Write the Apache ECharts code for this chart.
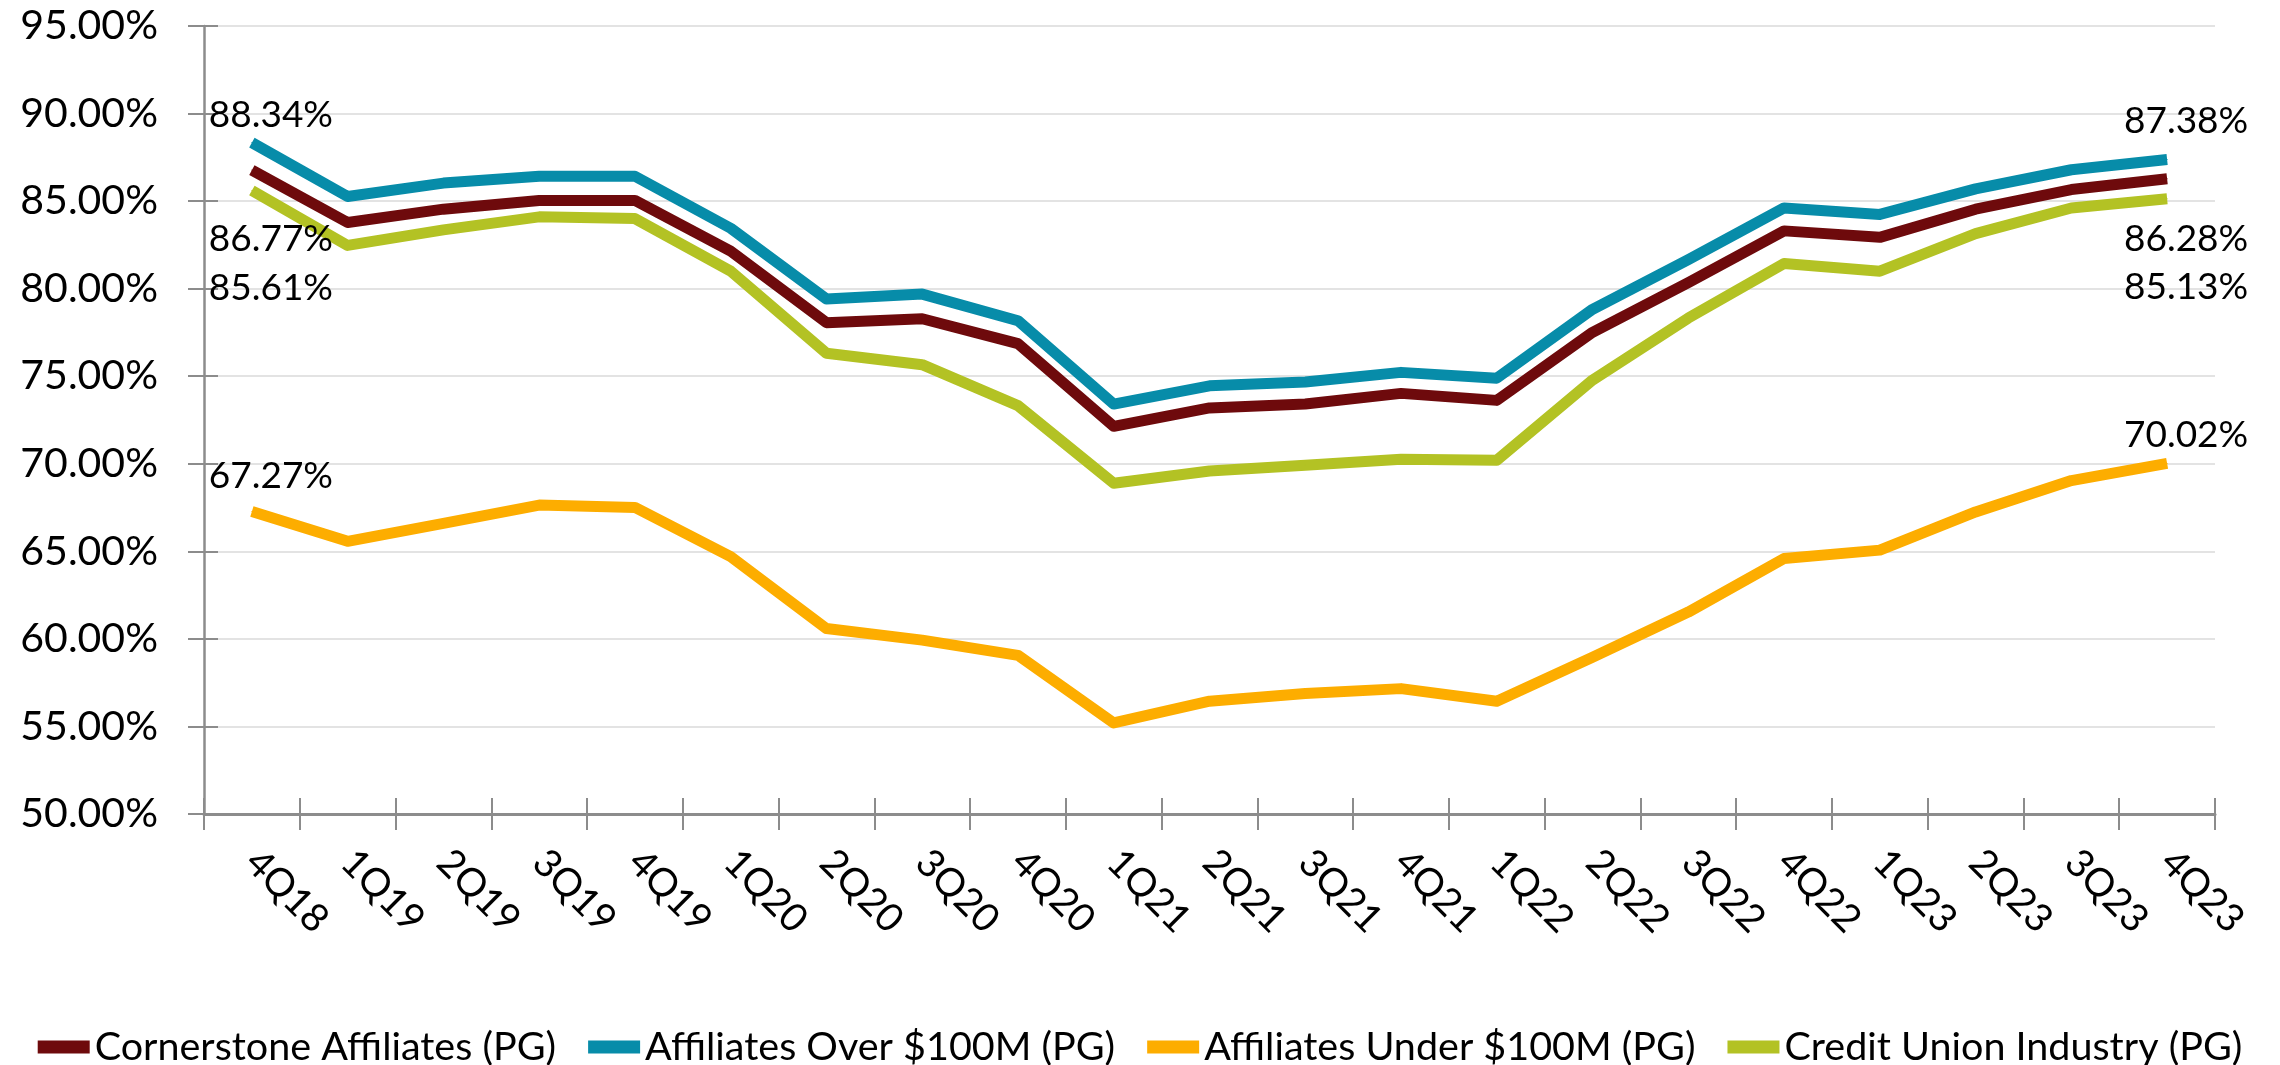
<!DOCTYPE html>
<html>
<head>
<meta charset="utf-8">
<title>PG ratio by quarter</title>
<script src="https://cdn.jsdelivr.net/npm/echarts@6/dist/echarts.min.js"></script>
<style>
  html, body { margin: 0; padding: 0; background: #ffffff; }
  #chart { width: 2280px; height: 1065px; }
</style>
</head>
<body>
<div id="chart"></div>
<script>
// Quarters on the category axis
const categories = ['4Q18', '1Q19', '2Q19', '3Q19', '4Q19', '1Q20', '2Q20', '3Q20', '4Q20',
  '1Q21', '2Q21', '3Q21', '4Q21', '1Q22', '2Q22', '3Q22', '4Q22', '1Q23', '2Q23', '3Q23', '4Q23'];

// Series values (percent)
const cornerstone = [86.77, 83.78, 84.54, 85.04, 85.04, 82.14, 78.06, 78.28, 76.86, 72.14, 73.19,
  73.41, 74.02, 73.62, 77.51, 80.35, 83.30, 82.93, 84.54, 85.66, 86.28];
const over100M = [88.34, 85.26, 86.03, 86.42, 86.42, 83.45, 79.41, 79.69, 78.17, 73.41, 74.45,
  74.67, 75.22, 74.89, 78.82, 81.66, 84.61, 84.24, 85.70, 86.79, 87.38];
const under100M = [67.27, 65.57, 66.60, 67.64, 67.51, 64.70, 60.59, 59.93, 59.06, 55.20, 56.44,
  56.88, 57.16, 56.44, 58.95, 61.53, 64.59, 65.07, 67.25, 69.04, 70.02];
const cuIndustry = [85.61, 82.47, 83.36, 84.10, 84.00, 81.00, 76.31, 75.66, 73.32, 68.89, 69.59,
  69.91, 70.26, 70.20, 74.78, 78.32, 81.44, 81.00, 83.14, 84.61, 85.13];

// Value axis range and step
const yMin = 50;
const yMax = 95;
const yStep = 5;

const FONT = 'Lato, "Liberation Sans", sans-serif';

// Only the first and last points carry a value label
function withEndLabels(values, firstDy, lastDy) {
  const last = values.length - 1;
  return values.map(function (v, i) {
    if (i === 0 || i === last) {
      return { value: v, label: { show: true, offset: [19, i === 0 ? firstDy : lastDy] } };
    }
    return v;
  });
}

function lineSeries(name, color, values, firstDy, lastDy) {
  return {
    name: name,
    type: 'line',
    xAxisIndex: 0,
    yAxisIndex: 0,
    data: withEndLabels(values, firstDy, lastDy),
    symbol: 'circle',
    symbolSize: 1,
    showSymbol: true,
    itemStyle: { color: color },
    lineStyle: { color: color, width: 11, join: 'round', cap: 'butt' },
    label: {
      show: false,
      position: 'inside',
      formatter: function (p) { return p.value.toFixed(2) + '%'; },
      fontFamily: FONT,
      fontSize: 37,
      color: '#000000'
    },
    emphasis: { disabled: true },
    animation: false
  };
}

const chart = echarts.init(document.getElementById('chart'), null, { renderer: 'canvas' });

const axisGrey = '#8c8c8c';

chart.setOption({
  backgroundColor: '#ffffff',
  grid: { left: 204, right: 65, top: 26, bottom: 251, containLabel: false },
  legend: {
    data: ['Cornerstone Affiliates (PG)', 'Affiliates Over $100M (PG)',
      'Affiliates Under $100M (PG)', 'Credit Union Industry (PG)'],
    left: 'center',
    top: 1020,
    icon: 'rect',
    itemWidth: 52,
    itemHeight: 13,
    itemGap: 32,
    textStyle: { fontFamily: FONT, fontSize: 39.5, color: '#000000', lineHeight: 44 }
  },
  xAxis: [
    {
      type: 'category',
      position: 'bottom',
      data: categories,
      boundaryGap: true,
      axisLine: { show: true, lineStyle: { color: axisGrey, width: 3 } },
      axisTick: { show: true, interval: 0, length: 16, lineStyle: { color: axisGrey, width: 2 } },
      axisLabel: {
        interval: 0,
        rotate: -45,
        margin: 42,
        padding: [17, 0, 0, 0],
        fontFamily: FONT,
        fontSize: 39,
        color: '#000000'
      },
      splitLine: { show: false }
    },
    {
      // inner half of the crossing tick marks
      type: 'category',
      position: 'bottom',
      data: categories,
      boundaryGap: true,
      axisLine: { show: false },
      axisTick: { show: true, inside: true, interval: 0, length: 16, lineStyle: { color: axisGrey, width: 2 } },
      axisLabel: { show: false },
      splitLine: { show: false }
    }
  ],
  yAxis: [
    {
      type: 'value',
      position: 'left',
      min: yMin,
      max: yMax,
      interval: yStep,
      axisLine: { show: true, lineStyle: { color: axisGrey, width: 2.5 } },
      axisTick: { show: true, length: 16, lineStyle: { color: axisGrey, width: 2 } },
      axisLabel: {
        margin: 46,
        formatter: function (v) { return v.toFixed(2) + '%'; },
        fontFamily: FONT,
        fontSize: 41,
        color: '#000000'
      },
      splitLine: { show: true, lineStyle: { color: '#e3e3e3', width: 2 } }
    },
    {
      // inner half of the crossing tick marks
      type: 'value',
      position: 'left',
      min: yMin,
      max: yMax,
      interval: yStep,
      axisLine: { show: false },
      axisTick: { show: true, inside: true, length: 14, lineStyle: { color: axisGrey, width: 2 } },
      axisLabel: { show: false },
      splitLine: { show: false }
    }
  ],
  series: [
    lineSeries('Cornerstone Affiliates (PG)', '#6e0a0c', cornerstone, 69, 60),
    lineSeries('Affiliates Over $100M (PG)', '#078ca9', over100M, -28, -38),
    lineSeries('Affiliates Under $100M (PG)', '#fdad00', under100M, -36, -28),
    lineSeries('Credit Union Industry (PG)', '#b3c224', cuIndustry, 98, 88)
  ],
  animation: false
});
</script>
</body>
</html>
